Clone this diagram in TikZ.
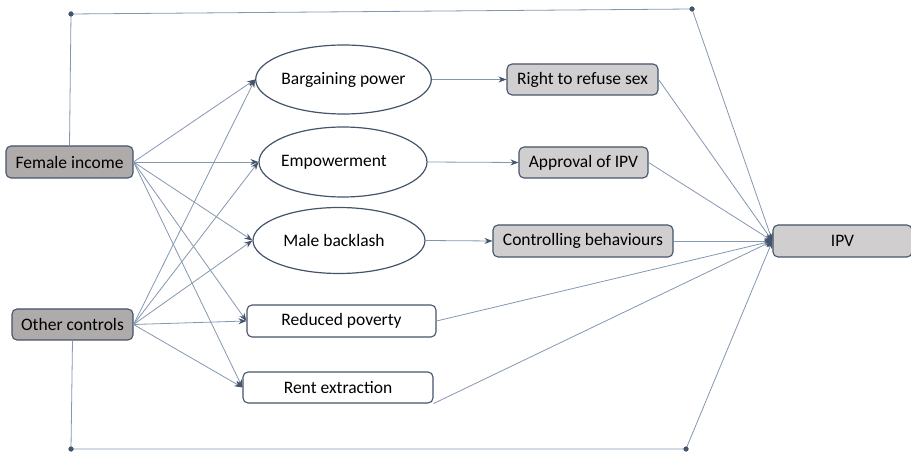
\documentclass[tikz,border=0pt]{standalone}
\usepackage{fontspec}
\setmainfont{Carlito}
\usetikzlibrary{shapes.geometric,arrows.meta}
\definecolor{edgeblue}{HTML}{44546A}
\definecolor{linegray}{HTML}{8497B0}
\definecolor{darkfill}{HTML}{AFABAB}
\definecolor{lightfill}{HTML}{D0CECE}
\tikzset{
  lbl/.style={font=\fontsize{17.5}{20}\selectfont, text=black, inner sep=0pt},
  rbox/.style={lbl, draw=edgeblue, line width=1.1pt, rounded corners=5pt},
  darkbox/.style={rbox, fill=darkfill},
  lightbox/.style={rbox, fill=lightfill},
  whitebox/.style={rbox, fill=white},
  oval/.style={lbl, ellipse, draw=edgeblue, line width=1.2pt, fill=white},
  conn/.style={draw=linegray, line width=0.8pt},
  arr/.style={conn, -{Stealth[length=8pt,width=6pt,color=edgeblue]}},
  dotpt/.style={circle, fill=edgeblue, inner sep=0pt, minimum size=5pt}
}
\begin{document}
\begin{tikzpicture}[x=1pt,y=-1pt]
\useasboundingbox (0,0) rectangle (911,454);
% nodes
\node[darkbox, minimum width=127pt, minimum height=32pt] (fi) at (69.5,162) {Female income};
\node[darkbox, minimum width=121pt, minimum height=31pt] (oc) at (72.5,324.5) {Other controls};
\node[oval, minimum width=163pt, minimum height=69pt] (bp) at (343.5,79.5) {Bargaining power};
\node[oval, minimum width=168pt, minimum height=70pt] (emp) at (343,162) {};
\node[lbl] (empt) at (334,162) {Empowerment};
\node[oval, minimum width=172pt, minimum height=66pt] (mb) at (339,240.5) {};
\node[lbl] (mbt) at (334,240.5) {Male backlash};
\node[whitebox, minimum width=189pt, minimum height=32pt] (rp) at (341.5,321) {Reduced poverty};
\node[whitebox, minimum width=190pt, minimum height=31pt] (re) at (338,387.5) {Rent extraction};
\node[lightbox, minimum width=151pt, minimum height=31pt] (rr) at (582.5,79.5) {Right to refuse sex};
\node[lightbox, minimum width=129pt, minimum height=31pt] (ap) at (583.5,162.5) {Approval of IPV};
\node[lightbox, minimum width=180pt, minimum height=32pt] (cb) at (583,241) {Controlling behaviours};
\node[lightbox, minimum width=139pt, minimum height=32pt] (ipv) at (842.5,241) {IPV};
% corner points
\node[dotpt] (d1) at (71,14) {};
\node[dotpt] (d2) at (692,9) {};
\node[dotpt] (d3) at (71,449) {};
\node[dotpt] (d4) at (686,449) {};
% direct paths
\draw[conn] (fi.north) -- (d1.center) -- (d2.center);
\draw[arr] (d2.center) -- (ipv.west);
\draw[conn] (oc.south) -- (d3.center) -- (d4.center);
\draw[arr] (d4.center) -- (ipv.west);
% from female income
\draw[arr] (fi.east) -- (bp.west);
\draw[arr] (fi.east) -- (emp.west);
\draw[arr] (fi.east) -- (mb.west);
\draw[arr] (fi.east) -- (rp.west);
\draw[arr] (fi.east) -- (re.west);
% from other controls
\draw[arr] (oc.east) -- (bp.west);
\draw[arr] (oc.east) -- (emp.west);
\draw[arr] (oc.east) -- (mb.west);
\draw[arr] (oc.east) -- (rp.west);
\draw[arr] (oc.east) -- (re.west);
% mechanisms to outcomes
\draw[arr] (bp.east) -- (rr.west);
\draw[arr] (emp.east) -- (ap.west);
\draw[arr] (mb.east) -- (cb.west);
% to IPV
\draw[arr] (rr.east) -- (ipv.west);
\draw[arr] (ap.east) -- (ipv.west);
\draw[arr] (cb.east) -- (ipv.west);
\draw[arr] (rp.east) -- (ipv.west);
\draw[arr] (re.south east) -- (ipv.west);
% redraw dots on top
\fill[edgeblue] (d1) circle (2.5pt) (d2) circle (2.5pt) (d3) circle (2.5pt) (d4) circle (2.5pt);
\end{tikzpicture}
\end{document}
